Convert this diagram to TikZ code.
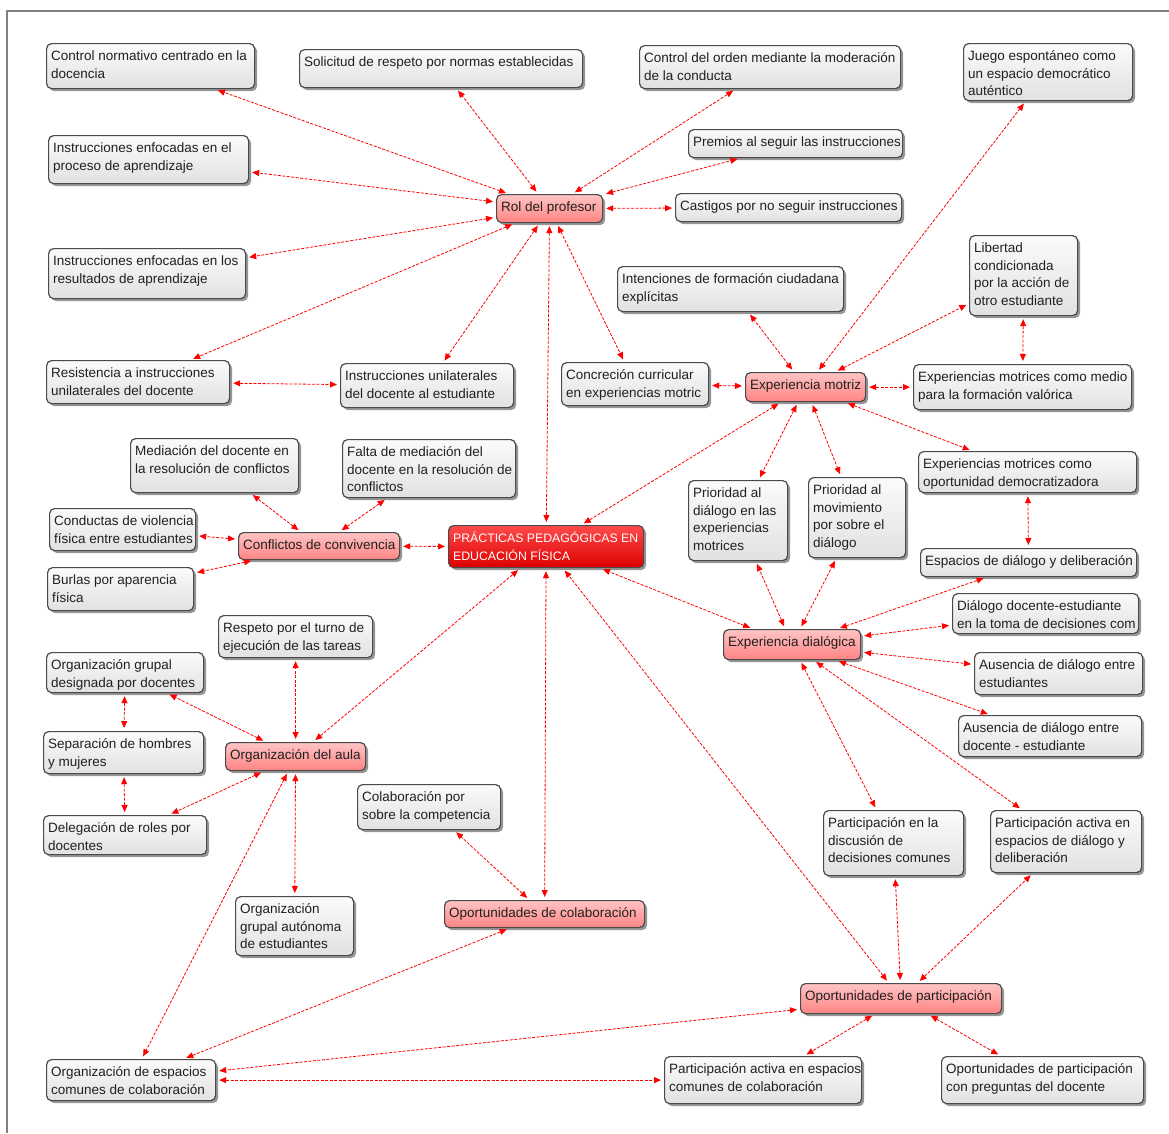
\documentclass[tikz,border=0pt]{standalone}
\usepackage{fontspec}
\setmainfont{Liberation Sans}
\usetikzlibrary{arrows.meta,shadows}
\definecolor{bordergray}{HTML}{4A4A4A}
\definecolor{linkred}{HTML}{FF0000}
\definecolor{pinktop}{HTML}{FFC4C4}
\definecolor{pinkbot}{HTML}{FF8383}
\definecolor{redtop}{HTML}{FF4A4A}
\definecolor{redbot}{HTML}{DD0000}
\definecolor{greytop}{HTML}{FBFBFB}
\definecolor{greybot}{HTML}{E1E1E1}
\definecolor{framegray}{HTML}{808080}
\definecolor{txt}{HTML}{202020}
\newcommand\boxtext[3]{\parbox[c][#2pt][t]{#1pt}{\fontsize{13.5}{17.5}\selectfont\rule{0pt}{17pt}\hspace*{4.5pt}\begin{tabular}[t]{@{}l@{}}#3\end{tabular}}}
\newcommand\cnode[7]{\node[#1, anchor=north west] (#2) at (#3,#4) {\boxtext{#5}{#6}{#7}};}
\newcommand\capsfont{\fontsize{12.3}{17.5}\selectfont}
\tikzset{
 basebox/.style={draw=bordergray, line width=1.2pt, rounded corners=5pt, inner sep=0pt,
   drop shadow={shadow xshift=2.5pt, shadow yshift=-2.5pt, opacity=0.55, fill=black!75}},
 greybox/.style={basebox, top color=greytop, bottom color=greybot, text=txt},
 pinkbox/.style={basebox, top color=pinktop, bottom color=pinkbot, text=txt},
 mainbox/.style={basebox, top color=redtop, bottom color=redbot, text=white},
 conn/.style={draw=linkred, line width=0.8pt, dash pattern=on 3pt off 1.5pt,
   {Triangle[length=7pt,width=6pt]}-{Triangle[length=7pt,width=6pt]},
   shorten <=3pt, shorten >=3pt}
}
\begin{document}
\begin{tikzpicture}[x=1pt,y=-1pt]
\useasboundingbox (0,0) rectangle (1169,1133);
\draw[framegray, line width=1.5pt] (7,1133) -- (7,11) -- (1169,11);
% nodes
\cnode{greybox}{ctrlnorm}{46}{43}{208}{45}{Control normativo centrado en la\\docencia}
\cnode{greybox}{solicitud}{299}{49}{283}{38}{Solicitud de respeto por normas establecidas}
\cnode{greybox}{ctrlorden}{639}{45}{261}{43}{Control del orden mediante la moderación\\de la conducta}
\cnode{greybox}{juego}{963}{43}{169}{57}{Juego espontáneo como\\un espacio democrático\\auténtico}
\cnode{greybox}{proceso}{48}{135}{200}{48}{Instrucciones enfocadas en el\\proceso de aprendizaje}
\cnode{greybox}{premios}{688}{129}{214}{28}{Premios al seguir las instrucciones}
\cnode{pinkbox}{rol}{496}{194}{106}{28}{Rol del profesor}
\cnode{greybox}{castigos}{675}{193}{226}{28}{Castigos por no seguir instrucciones}
\cnode{greybox}{resultados}{48}{248}{197}{50}{Instrucciones enfocadas en los\\resultados de aprendizaje}
\cnode{greybox}{intenciones}{617}{266}{226}{45}{Intenciones de formación ciudadana\\explícitas}
\cnode{greybox}{libertad}{969}{235}{108}{80}{Libertad\\condicionada\\por la acción de\\otro estudiante}
\cnode{greybox}{resistencia}{46}{360}{183}{43}{Resistencia a instrucciones\\unilaterales del docente}
\cnode{greybox}{unilat}{340}{363}{173}{44}{Instrucciones unilaterales\\del docente al estudiante}
\cnode{greybox}{concrecion}{561}{362}{147}{43}{Concreción curricular\\en experiencias motric}
\cnode{pinkbox}{motriz}{745}{372}{120}{29}{Experiencia motriz}
\cnode{greybox}{medio}{913}{364}{218}{45}{Experiencias motrices como medio\\para la formación valórica}
\cnode{greybox}{mediacion}{130}{438}{168}{54}{Mediación del docente en\\la resolución de conflictos}
\cnode{greybox}{falta}{342}{439}{173}{58}{Falta de mediación del\\docente en la resolución de\\conflictos}
\cnode{greybox}{democ}{918}{451}{218}{41}{Experiencias motrices como\\oportunidad democratizadora}
\cnode{greybox}{pdialogo}{688}{480}{99}{80}{Prioridad al\\diálogo en las\\experiencias\\motrices}
\cnode{greybox}{pmov}{808}{477}{97}{80}{Prioridad al\\movimiento\\por sobre el\\diálogo}
\cnode{greybox}{violencia}{49}{508}{146}{42}{Conductas de violencia\\física entre estudiantes}
\cnode{pinkbox}{conflictos}{238}{532}{161}{27}{Conflictos de convivencia}
\cnode{mainbox}{practicas}{448}{525}{195}{42}{\capsfont PRÁCTICAS PEDAGÓGICAS EN\\\capsfont EDUCACIÓN FÍSICA}
\cnode{greybox}{espacios}{920}{548}{216}{28}{Espacios de diálogo y deliberación}
\cnode{greybox}{burlas}{47}{567}{146}{43}{Burlas por aparencia\\física}
\cnode{greybox}{dialogodoc}{952}{593}{186}{40}{Diálogo docente-estudiante\\en la toma de decisiones com}
\cnode{greybox}{respeto}{218}{615}{154}{42}{Respeto por el turno de\\ejecución de las tareas}
\cnode{pinkbox}{dialogica}{723}{629}{137}{30}{Experiencia dialógica}
\cnode{greybox}{orggrupal}{46}{652}{157}{40}{Organización grupal\\designada por docentes}
\cnode{greybox}{ausest}{974}{652}{168}{42}{Ausencia de diálogo entre\\estudiantes}
\cnode{greybox}{ausdoc}{958}{715}{183}{41}{Ausencia de diálogo entre\\docente - estudiante}
\cnode{greybox}{separacion}{43}{731}{160}{42}{Separación de hombres\\y mujeres}
\cnode{pinkbox}{aula}{225}{742}{140}{28}{Organización del aula}
\cnode{greybox}{colabcomp}{357}{784}{143}{45}{Colaboración por\\sobre la competencia}
\cnode{greybox}{delegacion}{43}{815}{163}{39}{Delegación de roles por\\docentes}
\cnode{greybox}{partdisc}{823}{810}{140}{65}{Participación en la\\discusión de\\decisiones comunes}
\cnode{greybox}{partdial}{990}{810}{151}{62}{Participación activa en\\espacios de diálogo y\\deliberación}
\cnode{greybox}{orgaut}{235}{896}{118}{59}{Organización\\grupal autónoma\\de estudiantes}
\cnode{pinkbox}{colab}{444}{900}{200}{27}{Oportunidades de colaboración}
\cnode{pinkbox}{particip}{800}{983}{201}{30}{Oportunidades de participación}
\cnode{greybox}{orgesp}{46}{1059}{169}{41}{Organización de espacios\\comunes de colaboración}
\cnode{greybox}{partcom}{664}{1056}{197}{47}{Participación activa en espacios\\comunes de colaboración}
\cnode{greybox}{preguntas}{941}{1056}{202}{47}{Oportunidades de participación\\con preguntas del docente}
% connectors
\draw[conn] (rol) -- (ctrlnorm);
\draw[conn] (rol) -- (solicitud);
\draw[conn] (rol) -- (ctrlorden);
\draw[conn] (rol) -- (premios);
\draw[conn] (rol) -- (castigos);
\draw[conn] (rol) -- (proceso);
\draw[conn] (rol) -- (resultados);
\draw[conn] (rol) -- (resistencia);
\draw[conn] (rol) -- (unilat);
\draw[conn] (rol) -- (practicas);
\draw[conn] (rol) -- (concrecion);
\draw[conn] (resistencia) -- (unilat);
\draw[conn] (motriz) -- (intenciones);
\draw[conn] (motriz) -- (juego);
\draw[conn] (motriz) -- (libertad);
\draw[conn] (motriz) -- (concrecion);
\draw[conn] (motriz) -- (medio);
\draw[conn] (motriz) -- (democ);
\draw[conn] (motriz) -- (practicas);
\draw[conn] (motriz) -- (pdialogo);
\draw[conn] (motriz) -- (pmov);
\draw[conn] (libertad) -- (medio);
\draw[conn] (democ) -- (espacios);
\draw[conn] (dialogica) -- (practicas);
\draw[conn] (dialogica) -- (pdialogo);
\draw[conn] (dialogica) -- (pmov);
\draw[conn] (dialogica) -- (espacios);
\draw[conn] (dialogica) -- (dialogodoc);
\draw[conn] (dialogica) -- (ausest);
\draw[conn] (dialogica) -- (ausdoc);
\draw[conn] (dialogica) -- (partdisc);
\draw[conn] (dialogica) -- (partdial);
\draw[conn] (conflictos) -- (mediacion);
\draw[conn] (conflictos) -- (falta);
\draw[conn] (conflictos) -- (violencia);
\draw[conn] (conflictos) -- (burlas);
\draw[conn] (conflictos) -- (practicas);
\draw[conn] (aula) -- (practicas);
\draw[conn] (aula) -- (respeto);
\draw[conn] (aula) -- (orggrupal);
\draw[conn] (aula) -- (delegacion);
\draw[conn] (aula) -- (orgaut);
\draw[conn] (aula) -- (orgesp);
\draw[conn] (orggrupal) -- (separacion);
\draw[conn] (separacion) -- (delegacion);
\draw[conn] (colab) -- (practicas);
\draw[conn] (colab) -- (colabcomp);
\draw[conn] (colab) -- (orgesp);
\draw[conn] (particip) -- (practicas);
\draw[conn] (particip) -- (partdisc);
\draw[conn] (particip) -- (partdial);
\draw[conn] (particip) -- (orgesp);
\draw[conn] (particip) -- (partcom);
\draw[conn] (particip) -- (preguntas);
\draw[conn] (orgesp) -- (partcom);
\end{tikzpicture}
\end{document}
